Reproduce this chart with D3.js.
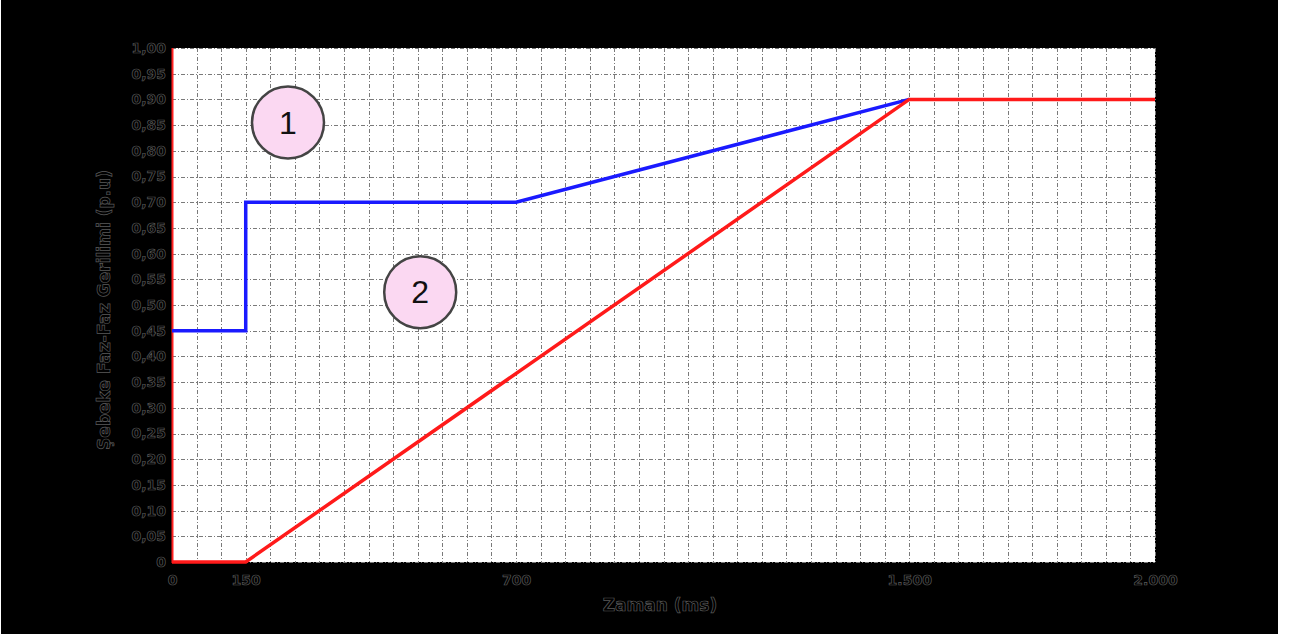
<!DOCTYPE html>
<html><head><meta charset="utf-8">
<script src="https://cdn.jsdelivr.net/npm/d3@7"></script>
<style>
html,body{margin:0;padding:0;background:#fff;}
svg{display:block;}
.lbl{font-family:"DejaVu Sans",sans-serif;font-weight:bold;fill:#000;stroke:#5a5a5a;stroke-width:0.7px;paint-order:normal;}
</style></head>
<body>
<svg id="c" width="1294" height="634"></svg>
<script>
// Data
const xTickValues = [0, 150, 700, 1500, 2000];
const xTickLabels = ["0", "150", "700", "1.500", "2.000"];
const yTickValues = [0,0.05,0.10,0.15,0.20,0.25,0.30,0.35,0.40,0.45,0.50,0.55,0.60,0.65,0.70,0.75,0.80,0.85,0.90,0.95,1.00];
const yTickLabels = ["0","0,05","0,10","0,15","0,20","0,25","0,30","0,35","0,40","0,45","0,50","0,55","0,60","0,65","0,70","0,75","0,80","0,85","0,90","0,95","1,00"];
const curve1X = [0, 150, 150, 700, 1500];
const curve1Y = [0.45, 0.45, 0.70, 0.70, 0.90];
const curve2X = [0, 150, 1500, 2000];
const curve2Y = [0, 0, 0.90, 0.90];
const markerLabels = ["1", "2"];
const markerX = [236, 505];
const markerY = [0.855, 0.525];
const xTitle = "Zaman (ms)";
const yTitle = "Şebeke Faz-Faz Gerilimi (p.u)";

const svg = d3.select("#c");
svg.append("rect").attr("x",1).attr("y",0).attr("width",1277).attr("height",634).attr("fill","#000");

const L=172, R=1155, T=48, B=562;
const x = d3.scaleLinear().domain([0,2000]).range([L,R]);
const y = d3.scaleLinear().domain([0,1]).range([B,T]);

svg.append("rect").attr("x",L).attr("y",T).attr("width",R-L).attr("height",B-T).attr("fill","#fff");

// grid
const gx = d3.range(0, 2001, 50);
const gy = d3.range(0, 21).map(i=>i*0.05);
const grid = svg.append("g").attr("stroke","#7a7a7a").attr("stroke-width",1).attr("stroke-dasharray","4,2,1,2");
grid.selectAll("line.v").data(gx).join("line").attr("class","v")
  .attr("x1",d=>Math.round(x(d))+0.5).attr("x2",d=>Math.round(x(d))+0.5).attr("y1",T).attr("y2",B);
grid.selectAll("line.h").data(gy).join("line").attr("class","h")
  .attr("y1",d=>Math.round(y(d))+0.5).attr("y2",d=>Math.round(y(d))+0.5).attr("x1",L).attr("x2",R);

// left red axis
svg.append("line").attr("x1",L+0.5).attr("x2",L+0.5).attr("y1",T).attr("y2",B+1).attr("stroke","#ff2020").attr("stroke-width",2);

const line = d3.line().x(d=>x(d[0])).y(d=>y(d[1]));
svg.append("path").datum(curve1X.map((v,i)=>[v,curve1Y[i]])).attr("d",line)
  .attr("fill","none").attr("stroke","#1a1aff").attr("stroke-width",3.5);
svg.append("path").datum(curve2X.map((v,i)=>[v,curve2Y[i]])).attr("d",line)
  .attr("fill","none").attr("stroke","#ff1a1a").attr("stroke-width",3.5);

// markers
const mk = svg.append("g");
markerLabels.forEach((t,i)=>{
  const cx = x(markerX[i]), cy = y(markerY[i]);
  mk.append("circle").attr("cx",cx).attr("cy",cy).attr("r",36)
    .attr("fill","#fbd8f2").attr("stroke","#444").attr("stroke-width",2.5);
  mk.append("text").attr("x",cx).attr("y",cy+11).attr("text-anchor","middle")
    .attr("font-family","Liberation Sans, Arial, sans-serif").attr("font-size",32).attr("fill","#111").text(t);
});

// axes
const xAxis = d3.axisBottom(x).tickValues(xTickValues).tickFormat((d,i)=>xTickLabels[i]).tickSize(0);
const gxA = svg.append("g").attr("transform",`translate(0,${B+10})`).call(xAxis);
gxA.select(".domain").remove();
gxA.selectAll("text").attr("class","lbl").attr("font-size",14).attr("dy","0.7em");

const yAxis = d3.axisLeft(y).tickValues(yTickValues).tickFormat((d,i)=>yTickLabels[i]).tickSize(0);
const gyA = svg.append("g").attr("transform",`translate(${L-3},0)`).call(yAxis);
gyA.select(".domain").remove();
gyA.selectAll("text").attr("class","lbl").attr("font-size",14);

svg.append("text").attr("class","lbl").attr("x",660).attr("y",611).attr("text-anchor","middle").attr("font-size",17).text(xTitle);
svg.append("text").attr("class","lbl").attr("transform","translate(110,310) rotate(-90)").attr("text-anchor","middle").attr("font-size",17).text(yTitle);
</script>
</body></html>
